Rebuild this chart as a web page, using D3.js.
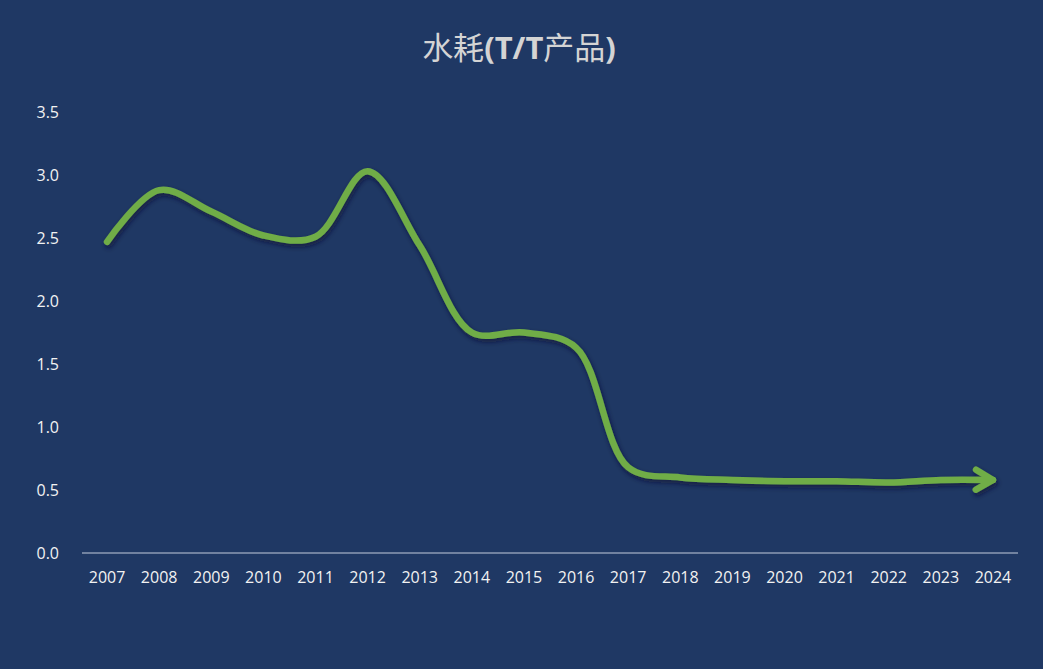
<!DOCTYPE html>
<html>
<head>
<meta charset="utf-8">
<script src="https://cdn.jsdelivr.net/npm/d3@7/dist/d3.min.js"></script>
<style>
  html, body { margin: 0; padding: 0; background: #1f3864; }
  svg { display: block; }
</style>
</head>
<body>
<svg id="chart" width="1043" height="669"></svg>
<script>
const years = ["2007","2008","2009","2010","2011","2012","2013","2014","2015","2016","2017","2018","2019","2020","2021","2022","2023","2024"];
const values = [2.47, 2.88, 2.71, 2.52, 2.51, 3.03, 2.44, 1.75, 1.75, 1.63, 0.68, 0.60, 0.58, 0.57, 0.57, 0.56, 0.58, 0.58];
const yTicks = [0, 0.5, 1.0, 1.5, 2.0, 2.5, 3.0, 3.5];
const title = "水耗(T/T产品)";

const W = 1043, H = 669;
const svg = d3.select("#chart");
svg.append("rect").attr("width", W).attr("height", H).attr("fill", "#1f3864");

const defs = svg.append("defs");
const f = defs.append("filter").attr("id", "shadow").attr("x", "-10%").attr("y", "-10%").attr("width", "120%").attr("height", "130%");
f.append("feDropShadow").attr("dx", 1.5).attr("dy", 3).attr("stdDeviation", 2.5).attr("flood-color", "#0a1630").attr("flood-opacity", 0.7);

const x = d3.scaleBand().domain(years).range([81, 1019]);
const y = d3.scaleLinear().domain([0, 3.5]).range([553, 112]);

// title
const t = svg.append("text").attr("x", 519).attr("y", 59).attr("text-anchor", "middle")
  .attr("fill", "#d4d4d4").attr("font-size", 31)
  .attr("font-family", "'Noto Sans CJK SC', 'Open Sans', sans-serif");
t.append("tspan").text("水耗");
t.append("tspan").attr("font-weight", "bold").attr("font-family", "'Open Sans', sans-serif").text("(T/T");
t.append("tspan").text("产品");
t.append("tspan").attr("font-weight", "bold").attr("font-family", "'Open Sans', sans-serif").text(")");

// y axis labels
const yAxis = d3.axisLeft(y).tickValues(yTicks).tickFormat(d3.format(".1f")).tickSize(0).tickPadding(0);
const gy = svg.append("g").attr("transform", "translate(59,0)").call(yAxis);
gy.select(".domain").remove();
gy.selectAll("text").attr("fill", "#f2f2f2").attr("font-size", 16)
  .attr("font-family", "'Open Sans', sans-serif");

// x axis
const xAxis = d3.axisBottom(x).tickSize(0).tickPadding(19);
const gx = svg.append("g").attr("transform", "translate(0,553)").call(xAxis);
gx.select(".domain").attr("stroke", "#8e9bb5").attr("stroke-width", 1.5).attr("d", "M82,0H1018");
gx.selectAll("text").attr("fill", "#f2f2f2").attr("font-size", 16)
  .attr("font-family", "'Open Sans', sans-serif");

// arrow marker
const m = defs.append("marker").attr("id", "arrow").attr("viewBox", "-22 -14 26 28")
  .attr("refX", 0).attr("refY", 0).attr("markerWidth", 26).attr("markerHeight", 28)
  .attr("markerUnits", "userSpaceOnUse").attr("orient", "auto");
m.append("path").attr("d", "M-17,-10 L0,0 L-17,10").attr("fill", "none")
  .attr("stroke", "#70ad47").attr("stroke-width", 6.5).attr("stroke-linecap", "round").attr("stroke-linejoin", "round");

const data = years.map((yr, i) => ({ yr, v: values[i] }));
const line = d3.line()
  .x(d => x(d.yr) + x.bandwidth() / 2)
  .y(d => y(d.v))
  .curve(d3.curveCatmullRom.alpha(0.5));

svg.append("path").datum(data)
  .attr("d", line)
  .attr("fill", "none")
  .attr("stroke", "#70ad47")
  .attr("stroke-width", 6.5)
  .attr("stroke-linecap", "round")
  .attr("stroke-linejoin", "round")
  .attr("filter", "url(#shadow)")
  .attr("marker-end", "url(#arrow)");
</script>
</body>
</html>
